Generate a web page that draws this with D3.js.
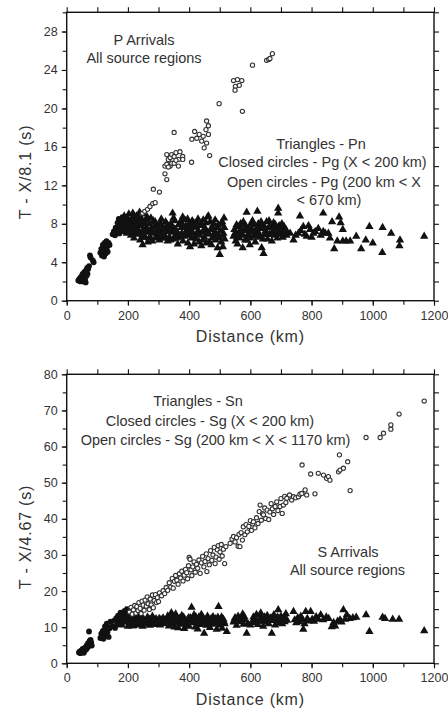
<!DOCTYPE html>
<html>
<head>
<meta charset="utf-8">
<script src="https://cdn.jsdelivr.net/npm/d3@7"></script>
<style>
	body { margin: 0; background: #fff; }
	svg { display: block; font-family: "Liberation Sans", Arial, Helvetica, sans-serif; }
	.axis .tick text { font-family: "Liberation Sans", Arial, Helvetica, sans-serif; font-size: 12.5px; fill: #333; }
	.title { font-size: 16px; letter-spacing: 0.8px; fill: #333; }
	.note { font-size: 14.5px; fill: #333; }
</style>
</head>
<body>
<svg id="chart" width="448" height="713"></svg>
<script>

/**
 * Data (distance km, reduced time s)
 */
// P arrivals: triangles = Pn
let pnTriangles = [
	[165,7.0],[170,7.6],[175,8.0],[178,7.2],[182,8.4],[185,7.7],[188,8.8],[190,7.3],[193,8.2],[196,7.0],
	[198,8.6],[200,7.8],[203,9.0],[205,7.4],[208,8.3],[210,6.8],[212,7.9],[215,8.6],[216,9.1],[218,7.2],
	[220,6.5],[222,8.0],[225,7.5],[228,8.8],[230,6.9],[232,8.2],[235,7.3],[238,9.2],[240,6.3],[242,7.8],
	[245,8.5],[247,6.9],[248,5.8],[250,7.4],[252,9.0],[255,8.1],[257,6.6],[260,7.6],[263,8.7],[265,6.1],
	[268,7.2],[270,8.0],[273,6.6],[276,7.5],[280,6.2],[283,8.3],[286,7.0],[290,6.5],[293,7.8],[296,6.9],
	[300,7.4],[303,6.3],[306,8.1],[310,7.0],[313,6.5],[316,7.6],[320,6.8],[323,8.2],[326,7.3],[330,6.2],
	[333,7.7],[336,6.6],[340,8.0],[343,7.1],[346,9.1],[348,6.4],[350,7.5],[353,8.3],[356,6.8],[360,7.2],
	[363,5.9],[366,7.9],[370,6.6],[373,8.2],[376,7.0],[380,6.2],[383,7.6],[386,8.4],[390,6.9],[393,7.4],
	[396,6.0],[400,8.0],[403,5.6],[405,7.2],[408,6.5],[410,8.3],[413,7.0],[416,5.9],[420,7.7],[423,6.4],
	[426,8.1],[430,7.3],[433,6.1],[436,7.8],[440,5.7],[443,7.1],[446,8.4],[450,6.6],[453,7.5],[456,6.0],
	[460,8.7],[463,8.8],[466,6.9],[470,7.4],[473,5.8],[476,6.5],[480,8.0],[483,7.1],[486,6.3],[490,7.6],
	[493,5.5],[496,6.8],[500,4.8],[502,7.3],[505,6.1],[508,8.2],[510,5.6],[512,7.0],[514,8.6],[516,6.4],
	[181,7.9],[187,8.1],[194,7.6],[201,8.4],[207,7.1],[214,7.6],[219,8.5],[224,7.0],[229,7.9],[234,8.7],
	[239,7.1],[244,8.0],[249,6.6],[254,7.1],[259,8.4],[264,7.4],[269,6.5],[275,8.6],[279,7.1],[285,7.7],
	[289,8.2],[295,7.3],[299,6.6],[305,7.7],[309,8.5],[315,6.9],[319,7.3],[325,6.5],[329,7.9],[335,7.2],
	[339,6.3],[345,7.6],[349,8.6],[355,7.4],[359,6.5],[365,6.9],[369,8.0],[375,7.6],[379,8.7],[385,6.7],
	[389,7.8],[395,8.5],[399,6.8],[404,7.9],[409,7.6],[415,8.1],[419,6.6],[425,7.0],[429,8.5],[435,6.8],
	[439,8.0],[445,6.3],[449,7.4],[455,8.1],[459,7.0],[465,6.1],[469,8.2],[475,7.6],[479,6.7],[485,8.4],
	[489,6.9],[495,7.9],[499,6.5],[504,8.0],[509,6.8],[515,7.6],
	[545,6.7],[548,7.4],[552,6.2],[555,7.9],[558,5.9],[562,7.1],[565,6.5],[568,8.0],[572,6.9],[575,5.5],
	[577,8.2],[580,7.3],[583,6.3],[586,7.7],[588,9.2],[592,6.8],[595,7.5],[598,5.8],[600,6.5],[604,7.4],
	[607,8.3],[610,6.7],[613,7.9],[616,6.1],[620,7.2],[623,9.3],[626,8.0],[630,6.6],[633,7.5],[637,5.5],
	[640,7.8],[643,4.9],[646,6.9],[650,7.3],[653,8.2],[656,6.4],[660,7.6],[663,6.9],[666,7.9],[670,6.2],
	[673,7.2],[676,8.1],[680,6.8],[684,7.5],[688,6.5],[691,9.1],[691,9.6],[694,7.8],[698,6.9],[702,7.4],
	[706,6.6],[710,7.7],[714,7.1],[718,6.8],
	[550,7.0],[557,6.6],[563,7.7],[570,7.4],[576,6.8],[582,7.9],[589,6.3],[596,7.1],[602,8.0],[609,7.2],
	[615,6.8],[622,7.6],[628,7.0],[635,8.2],[641,6.4],[648,7.6],[655,6.9],[661,8.3],[668,6.9],[675,7.6],
	[682,7.9],[689,7.1],[696,7.3],[703,8.0],[709,6.9],[716,7.4],
	[730,7.0],[741,6.3],[748,6.8],[757,7.0],[762,8.8],[765,7.3],[773,7.7],[778,6.9],[784,6.7],[790,7.8],
	[795,7.4],[800,6.6],[806,7.0],[812,7.2],[822,7.5],[830,6.8],[838,7.2],[838,9.1],[845,7.0],[855,7.0],
	[860,6.5],[867,8.2],[874,5.4],[884,6.2],[890,8.7],[895,8.1],[902,7.4],[902,6.2],[913,6.2],[926,6.2],
	[946,6.7],[962,5.4],[977,6.3],[989,7.7],[1000,6.0],[1031,5.0],[1032,7.6],[1060,7.0],[1087,5.7],[1089,6.3],
	[1168,6.7]
];
// P arrivals: closed circles = Pg (X < 200 km)
let pgClosed = [
	[38,2.1],[42,2.3],[45,2.0],[47,2.5],[50,2.2],[52,2.8],[54,2.4],[55,2.0],[57,2.6],[58,3.0],
	[60,2.2],[61,2.9],[62,1.9],[64,3.2],[65,2.6],[67,3.4],[68,2.8],[70,3.3],[73,3.6],[76,4.7],
	[78,4.5],[85,4.2],[88,4.0],[110,5.0],[113,5.4],[115,4.7],[118,5.8],[120,5.2],[122,4.6],[124,6.0],
	[126,5.5],[128,4.9],[130,6.2],[132,5.6],[134,5.1],[137,6.0],[140,5.8],[150,6.9],[154,7.2],[158,6.8],
	[160,7.6],[163,7.2],[166,8.1],[168,7.5],[170,8.5],[172,7.0],[175,7.9],[178,8.3],[180,7.4],[182,8.7],
	[185,7.8],[188,8.2],[190,8.6],[193,7.6],[196,8.4],[198,8.0]
];
// P arrivals: open circles = Pg (200 km < X < 670 km)
let pgOpen = [
	[248,9.1],[255,9.3],[264,9.5],[272,9.8],[281,10.1],[289,10.2],[283,11.6],[303,11.3],[321,13.2],[327,12.6],
	[321,14.0],[327,14.2],[332,14.7],[338,14.9],[343,15.2],[351,15.0],[357,15.4],[365,14.7],[370,15.5],[379,15.0],
	[327,15.2],[338,14.0],[343,14.3],[351,14.3],[357,14.6],[365,14.0],[379,14.7],[332,13.9],[351,17.5],[408,14.4],
	[409,16.8],[418,17.6],[425,16.9],[433,17.3],[441,16.6],[446,17.1],[449,15.9],[457,16.4],[463,17.3],[467,15.1],
	[455,17.8],[457,18.7],[463,18.2],[498,20.5],[574,19.7],[545,22.9],[558,23.0],[572,22.9],[551,22.3],[564,22.4],
	[550,21.9],[607,24.5],[653,25.0],[660,25.1],[664,25.2],[672,25.7]
];

// S arrivals: triangles = Sn
let snTriangles = [
	[172,11.8],[176,12.9],[180,10.6],[184,13.6],[188,11.4],[192,14.5],[196,12.1],[200,10.2],[203,13.2],[206,11.0],
	[210,12.4],[213,10.4],[216,13.8],[218,10.4],[220,11.7],[224,10.9],[228,12.6],[232,11.2],[236,10.6],[240,13.4],
	[244,11.0],[248,10.2],[252,12.1],[256,11.4],[260,10.8],[264,12.8],[268,11.1],[272,10.5],[276,11.8],[280,13.0],
	[284,10.9],[288,11.5],[292,12.3],[296,10.7],[300,11.2],[305,10.6],[310,11.4],[315,12.5],[320,10.9],[325,11.7],
	[330,13.1],[334,10.3],[338,12.2],[342,14.0],[345,11.0],[348,12.8],[352,10.0],[356,13.6],[360,11.4],[364,9.8],
	[368,12.4],[372,10.8],[376,13.2],[380,11.6],[384,9.6],[388,12.0],[392,10.4],[396,11.8],[400,10.2],[404,12.6],
	[408,15.5],[412,11.2],[416,13.4],[420,10.0],[424,11.9],[428,9.5],[432,12.8],[436,10.7],[440,13.5],[444,11.3],
	[449,8.3],[452,12.1],[456,10.5],[460,13.0],[464,11.6],[468,9.9],[472,12.4],[476,10.8],[480,12.0],[485,11.1],
	[490,9.4],[494,12.7],[496,15.7],[500,10.6],[504,11.9],[508,9.7],[512,12.2],[516,10.9],[523,8.8],
	[174,12.2],[182,12.4],[190,13.0],[198,11.4],[205,12.2],[212,11.5],[219,12.8],[226,11.6],[234,12.3],[241,11.9],
	[247,12.6],[254,11.0],[262,11.6],[270,12.2],[278,11.3],[286,12.0],[294,11.5],[302,12.4],[308,12.1],[318,11.8],
	[328,12.2],[336,11.6],[344,12.6],[350,11.6],[358,12.4],[366,11.1],[374,12.0],[382,12.7],[390,11.1],[398,12.6],
	[406,11.4],[414,12.1],[422,12.9],[430,11.3],[438,12.2],[446,12.5],[454,11.2],[462,12.1],[470,11.2],[478,12.9],
	[487,12.3],[498,11.6],[506,12.8],[514,11.5],
	[545,11.4],[550,12.6],[555,10.5],[560,13.0],[565,11.8],[570,12.4],[575,13.6],[578,10.8],[582,12.0],[588,8.3],
	[592,11.0],[600,10.6],[610,12.8],[615,11.2],[620,13.5],[625,10.7],[630,12.2],[634,13.9],[638,11.6],[642,10.2],
	[646,12.8],[650,11.4],[655,13.2],[660,10.9],[665,12.5],[670,8.3],[673,11.8],[677,13.4],[681,10.6],[685,12.1],
	[691,14.8],[695,11.2],[700,13.0],[704,10.9],[708,12.6],[712,11.5],[716,13.7],[720,11.9],
	[548,12.0],[557,11.8],[563,12.1],[572,11.5],[580,12.9],[607,11.6],[618,12.2],[628,11.9],[636,12.6],[645,11.6],
	[653,12.4],[662,12.0],[671,12.6],[680,11.9],[689,12.8],[698,12.0],[706,11.8],[714,12.6],
	[741,14.3],[745,12.0],[750,11.2],[755,12.6],[760,11.5],[765,13.0],[770,12.1],[773,9.4],[777,10.9],[781,14.3],
	[786,12.4],[790,11.7],[797,14.3],[802,12.2],[808,11.6],[815,12.9],[822,12.2],[830,13.4],[838,12.0],[848,12.8],
	[856,12.4],[866,10.1],[872,11.3],[877,10.3],[885,11.6],[893,12.0],[898,11.4],[904,14.8],[910,12.2],[915,13.4],
	[925,12.4],[935,12.6],[946,12.7],[978,13.4],[989,8.8],[1032,12.7],[1040,12.4],[1065,12.2],[1086,12.2],[1168,9.0]
];
// S arrivals: closed circles = Sg (X < 200 km)
let sgClosed = [
	[40,3.0],[43,3.3],[45,2.8],[48,3.5],[50,3.1],[52,4.0],[54,3.4],[56,2.9],[58,4.2],[60,3.6],
	[62,4.5],[64,3.9],[66,5.0],[68,4.4],[70,5.6],[72,4.8],[73,8.8],[75,6.2],[76,5.3],[78,6.5],
	[80,5.8],[82,4.9],[110,7.0],[113,8.2],[116,7.5],[118,9.0],[120,6.8],[122,8.5],[125,10.2],[127,7.8],
	[129,9.4],[131,11.0],[133,8.6],[135,10.0],[137,7.3],[140,9.7],[143,11.5],[150,10.3],[155,11.8],[158,9.8],
	[162,12.5],[165,10.8],[168,13.2],[170,11.5],[173,12.3],[176,14.0],[178,10.9],[180,12.8],[183,13.8],[186,11.7],
	[189,14.5],[192,12.4],[195,13.5],[198,15.0]
];
// S arrivals: open circles = Sg (200 km < X < 1170 km)
let sgOpen = [
	[205,14.2],[210,15.5],[214,13.6],[218,14.8],[222,16.0],[226,13.9],[229,15.7],[233,14.6],[236,16.8],[240,15.2],
	[243,13.8],[246,17.2],[250,16.1],[253,14.7],[256,17.5],[260,15.8],[263,18.4],[266,16.5],[270,14.9],[273,17.8],
	[276,16.2],[280,18.9],[283,15.4],[286,17.4],[290,19.0],[293,16.8],[296,18.2],[300,17.1],[303,19.5],[310,18.7],
	[315,20.1],[320,19.3],[325,21.0],[330,20.2],[335,22.3],[340,21.1],[345,23.5],[348,20.8],[352,22.7],[356,24.3],
	[360,23.0],[364,21.9],[368,24.8],[372,23.6],[376,25.5],[380,22.8],[384,24.4],[388,26.0],[392,25.1],[395,23.4],
	[398,27.0],[400,29.3],[403,28.8],[406,25.9],[409,24.3],[412,26.7],[416,28.1],[420,25.2],[424,27.4],[428,26.3],
	[432,28.6],[436,24.9],[440,27.8],[444,29.6],[448,26.7],[452,28.2],[456,30.3],[458,25.4],[462,29.0],[466,27.3],
	[470,31.2],[474,28.5],[478,30.0],[482,32.1],[485,27.6],[488,29.4],[492,31.4],[495,32.6],[498,28.8],[501,30.8],
	[505,32.9],[508,29.7],[512,31.6],[516,27.6],[520,32.3],[534,33.2],[540,34.4],[545,35.1],[550,33.6],[555,34.8],
	[560,32.4],[563,35.7],[566,32.3],[570,36.2],[574,34.1],[577,37.8],[582,35.6],[586,38.4],[590,36.4],[595,37.9],
	[600,39.5],[604,36.8],[608,38.6],[610,39.2],[615,37.5],[620,40.3],[625,38.7],[629,42.0],[632,43.8],[636,39.6],
	[640,41.4],[643,41.1],[647,43.0],[650,40.1],[655,42.4],[660,39.8],[664,41.9],[668,44.2],[672,42.8],[676,41.2],
	[681,43.4],[686,44.7],[690,42.3],[697,43.4],[700,45.6],[704,41.5],[708,43.8],[712,46.2],[716,44.5],[719,45.7],
	[728,46.6],[735,45.2],[741,46.1],[748,45.8],[757,46.1],[762,46.8],[768,47.0],[779,48.0],[784,46.6],[811,46.9],
	[769,54.9],[797,52.4],[822,52.6],[839,52.1],[849,51.2],[855,51.7],[860,50.7],[888,53.0],[891,57.7],[893,53.5],
	[904,54.0],[918,55.8],[926,47.8],[978,62.5],[1024,62.5],[1035,63.7],[1059,64.8],[1059,66.0],[1086,69.0],[1168,72.6]
];

// Tick labels
let xTicks = [0, 200, 400, 600, 800, 1000, 1200];
let pTicks = [0, 4, 8, 12, 16, 20, 24, 28];
let sTicks = [0, 10, 20, 30, 40, 50, 60, 70, 80];

/**
 * Layout
 */
let left = 66.7;
let right = 434;
let svg = d3.select("#chart");

let panels = [
	{
		top: 12.3, bottom: 300.7, yMax: 30, yMinor: 2, yTicks: pTicks,
		yTitle: "T - X/8.1 (s)", yTitleY: 172, xTitleY: 342,
		triangles: pnTriangles, closed: pgClosed, open: pgOpen,
		notes: [
			["P Arrivals", 144, 45],
			["All source regions", 144, 62.5],
			["Triangles - Pn", 321, 148.5],
			["Closed circles - Pg (X < 200 km)", 322.5, 167],
			["Open circles - Pg (200 km < X", 324, 186.5],
			["< 670 km)", 329, 204.5]
		]
	},
	{
		top: 374.3, bottom: 663.3, yMax: 80, yMinor: 5, yTicks: sTicks,
		yTitle: "T - X/4.67 (s)", yTitleY: 537, xTitleY: 705,
		triangles: snTriangles, closed: sgClosed, open: sgOpen,
		notes: [
			["Triangles - Sn", 198, 406],
			["Closed circles - Sg (X < 200 km)", 210, 425.5],
			["Open circles - Sg (200 km < X < 1170 km)", 215.5, 444.5],
			["S Arrivals", 348, 556.5],
			["All source regions", 347.5, 574.5]
		]
	}
];

/**
 * Draw one panel
 */
function drawPanel(p) {
	let x = d3.scaleLinear().domain([0, 1200]).range([left, right]);
	let y = d3.scaleLinear().domain([0, p.yMax]).range([p.bottom, p.top]);
	let g = svg.append("g").style("color", "#111");

	let xMinor = d3.range(0, 1201, 100);
	let yMinor = d3.range(0, p.yMax + 0.01, p.yMinor);

	// Minor ticks on all four sides
	g.append("g").attr("transform", "translate(0," + p.bottom + ")")
		.call(d3.axisBottom(x).tickValues(xMinor).tickSize(4).tickFormat(""));
	g.append("g").attr("transform", "translate(0," + p.top + ")")
		.call(d3.axisTop(x).tickValues(xMinor).tickSize(5).tickFormat(""));
	g.append("g").attr("transform", "translate(" + left + ",0)")
		.call(d3.axisLeft(y).tickValues(yMinor).tickSize(4).tickFormat(""));
	g.append("g").attr("transform", "translate(" + right + ",0)")
		.call(d3.axisRight(y).tickValues(yMinor).tickSize(5).tickFormat(""));

	// Labelled axes
	g.append("g").attr("class", "axis").attr("transform", "translate(0," + p.bottom + ")")
		.call(d3.axisBottom(x).tickValues(xTicks).tickSize(5).tickPadding(5).tickFormat(d3.format("d")));
	g.append("g").attr("class", "axis").attr("transform", "translate(" + left + ",0)")
		.call(d3.axisLeft(y).tickValues(p.yTicks).tickSize(5).tickPadding(4).tickFormat(d3.format("d")));

	g.selectAll(".domain").remove();
	g.selectAll(".tick line").attr("stroke-width", 1.1);

	// Frame
	g.append("rect")
		.attr("x", left).attr("y", p.top)
		.attr("width", right - left).attr("height", p.bottom - p.top)
		.attr("fill", "none").attr("stroke", "#111").attr("stroke-width", 1.4);

	// Triangles
	let tri = d3.symbol().type(d3.symbolTriangle).size(30);
	g.append("g").selectAll("path")
		.data(p.triangles)
		.enter().append("path")
		.attr("d", tri)
		.attr("transform", function(d) { return "translate(" + x(d[0]) + "," + y(d[1]) + ")"; })
		.attr("fill", "#111");

	// Closed circles
	g.append("g").selectAll("circle")
		.data(p.closed)
		.enter().append("circle")
		.attr("cx", function(d) { return x(d[0]); })
		.attr("cy", function(d) { return y(d[1]); })
		.attr("r", 2.9)
		.attr("fill", "#111");

	// Open circles
	g.append("g").selectAll("circle")
		.data(p.open)
		.enter().append("circle")
		.attr("cx", function(d) { return x(d[0]); })
		.attr("cy", function(d) { return y(d[1]); })
		.attr("r", 2.1)
		.attr("fill", "#fff")
		.attr("stroke", "#333")
		.attr("stroke-width", 1.1);

	// Titles
	g.append("text")
		.attr("class", "title")
		.attr("x", (left + right) / 2).attr("y", p.xTitleY)
		.attr("text-anchor", "middle")
		.text("Distance (km)");

	g.append("text")
		.attr("class", "title")
		.attr("transform", "translate(31," + p.yTitleY + ") rotate(-90)")
		.attr("text-anchor", "middle")
		.text(p.yTitle);

	// Annotations
	g.append("g").selectAll("text")
		.data(p.notes)
		.enter().append("text")
		.attr("class", "note")
		.attr("x", function(d) { return d[1]; })
		.attr("y", function(d) { return d[2]; })
		.attr("text-anchor", "middle")
		.text(function(d) { return d[0]; });
}

panels.forEach(drawPanel);

</script>
</body>
</html>
